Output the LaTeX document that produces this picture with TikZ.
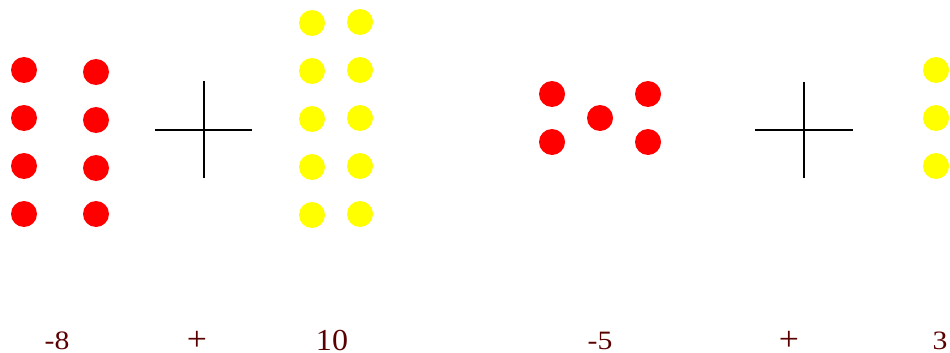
\documentclass[tikz,border=0pt]{standalone}
\usepackage{fontspec}
\setmainfont{Liberation Serif}
\newfontfamily\lblfont[FakeStretch=1.12]{Liberation Serif}
\newfontfamily\lblfontb[FakeStretch=1.05]{Liberation Serif}
\definecolor{lbl}{RGB}{90,0,0}
\definecolor{ylw}{RGB}{255,255,0}
\begin{document}
\begin{tikzpicture}[x=1pt,y=-1pt,
  rdot/.style={circle,fill=red,draw=none,minimum size=26pt,inner sep=0pt},
  ydot/.style={circle,fill=ylw,draw=none,minimum size=26pt,inner sep=0pt},
  lbltext/.style={anchor=base,text=lbl,inner sep=0pt,font=\lblfont\fontsize{26.5}{30}\selectfont},
  lblplus/.style={anchor=base,text=lbl,inner sep=0pt,font=\lblfontb\fontsize{34}{36}\selectfont},
  lbltextbig/.style={anchor=base,text=lbl,inner sep=0pt,font=\lblfontb\fontsize{30.5}{34}\selectfont},
  plusline/.style={line width=2pt,black}]
\useasboundingbox (0,0) rectangle (950,353);
% group 1 red (-8)
\foreach \y [count=\i] in {70,118,166,214} \node[rdot] (ra\i) at (24,\y) {};
\foreach \y [count=\i] in {72,120,168,214} \node[rdot] (rb\i) at (96,\y) {};
% plus 1
\coordinate (p1l) at (155,130); \coordinate (p1r) at (252,130);
\coordinate (p1t) at (204,81); \coordinate (p1b) at (204,178);
\draw[plusline] (p1l) -- (p1r);
\draw[plusline] (p1t) -- (p1b);
% group 1 yellow (10)
\foreach \y [count=\i] in {23,71,119,167,215} \node[ydot] (ya\i) at (312,\y) {};
\foreach \y [count=\i] in {22,70,118,166,214} \node[ydot] (yb\i) at (360,\y) {};
% group 2 red (-5)
\node[rdot] (rc1) at (552,94) {};
\node[rdot] (rc2) at (552,142) {};
\node[rdot] (rc3) at (600,118) {};
\node[rdot] (rc4) at (648,94) {};
\node[rdot] (rc5) at (648,142) {};
% plus 2
\coordinate (p2l) at (755,130); \coordinate (p2r) at (853,130);
\coordinate (p2t) at (804,82); \coordinate (p2b) at (804,178);
\draw[plusline] (p2l) -- (p2r);
\draw[plusline] (p2t) -- (p2b);
% group 2 yellow (3)
\foreach \y [count=\i] in {70,118,166} \node[ydot] (yc\i) at (936,\y) {};
% labels
\node[lbltext] (t1) at (57,349.5) {-8};
\node[lblplus] (t2) at (197,350.5) {+};
\node[lbltextbig] (t3) at (332,350) {10};
\node[lbltext] (t4) at (600,349.5) {-5};
\node[lblplus] (t5) at (789,350.5) {+};
\node[lbltext] (t6) at (940,349.5) {3};
\end{tikzpicture}
\end{document}
